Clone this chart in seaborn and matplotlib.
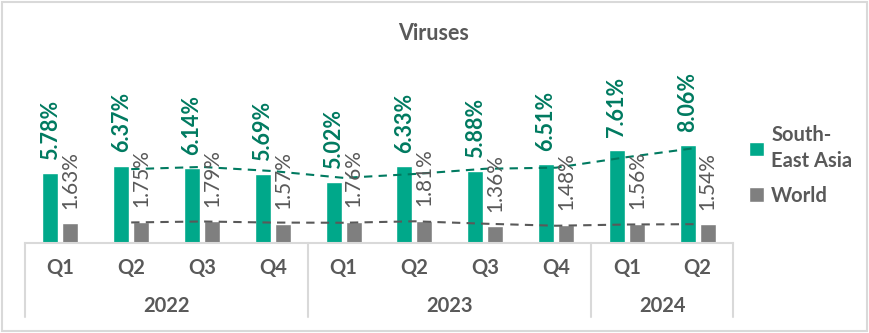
import matplotlib
matplotlib.use("Agg")
import matplotlib.pyplot as plt
import matplotlib.transforms as mtransforms
from matplotlib.patches import Rectangle
import seaborn as sns
import pandas as pd

# Quarterly share of virus detections (%)
quarters = ["Q1", "Q2", "Q3", "Q4", "Q1", "Q2", "Q3", "Q4", "Q1", "Q2"]
years = ["2022", "2023", "2024"]
year_spans = [4, 4, 2]
sea_values = [5.78, 6.37, 6.14, 5.69, 5.02, 6.33, 5.88, 6.51, 7.61, 8.06]
world_values = [1.63, 1.75, 1.79, 1.57, 1.76, 1.81, 1.36, 1.48, 1.56, 1.54]
series_names = ["South-\nEast Asia", "World"]

TEAL = "#00A88A"
TEAL_DARK = "#007A60"
GREY = "#7F7F7F"
GREY_DARK = "#595959"
TEXT = "#595959"
LINE = "#D9D9D9"

sns.set_theme(style="white")
plt.rcParams["font.family"] = ["Lato", "DejaVu Sans"]

n = len(quarters)
df = pd.DataFrame({
    "pos": list(range(n)) * 2,
    "value": sea_values + world_values,
    "series": [series_names[0]] * n + [series_names[1]] * n,
})

W, H = 869, 333
fig = plt.figure(figsize=(W / 100, H / 100), dpi=100)
ax_left, ax_right, ax_bottom, ax_top = 25, 733, 243, 60
ax = fig.add_axes([ax_left / W, 1 - ax_bottom / H,
                   (ax_right - ax_left) / W, (ax_bottom - ax_top) / H])

sns.barplot(data=df, x="pos", y="value", hue="series", ax=ax,
            palette=[TEAL, GREY], width=0.565, gap=0.2,
            order=list(range(n)), hue_order=series_names,
            saturation=1, errorbar=None, legend=True)

px_per_unit = 12.16
ax.set_ylim(0, (ax_bottom - ax_top) / px_per_unit)
ax.set_xlim(-0.5, n - 0.5)

# Two-period moving average trendlines
sea_ma = pd.Series(sea_values).rolling(2).mean()
world_ma = pd.Series(world_values).rolling(2).mean()
xs = list(range(n))
ax.plot(xs, sea_ma, ls=(0, (4, 3)), color=TEAL_DARK, lw=1.5, zorder=3)
ax.plot(xs, world_ma, ls=(0, (4, 3)), color=GREY_DARK, lw=1.5, zorder=3)

# Data labels
for cont, color, weight, pad, size in [
        (ax.containers[0], TEAL_DARK, "bold", 9.5, 15.5),
        (ax.containers[1], TEXT, "normal", 10.5, 15)]:
    for bar in cont:
        h = bar.get_height()
        ax.annotate(f"{h:.2f}%", (bar.get_x() + bar.get_width() / 2, h),
                    xytext=(0, pad), textcoords="offset points",
                    rotation=90, ha="center", va="bottom",
                    fontsize=size, color=color, fontweight=weight)

# Axes styling
for side in ["top", "right", "left"]:
    ax.spines[side].set_visible(False)
ax.spines["bottom"].set_color(LINE)
ax.spines["bottom"].set_linewidth(1.5)
ax.set_yticks([])
ax.set_ylabel("")
ax.set_xlabel("")
ax.set_xticks(range(n))
ax.set_xticklabels(quarters, fontsize=14.5, fontweight="bold", color=TEXT)
ax.tick_params(axis="x", length=0, pad=11)

# Year grouping with separators
trans = mtransforms.blended_transform_factory(ax.transData, ax.transAxes)
sep_depth = -(317 - ax_bottom) / (ax_bottom - ax_top)
year_y = -(306 - ax_bottom) / (ax_bottom - ax_top)
start = -0.5
ax.plot([start, start], [0, sep_depth], transform=trans, color=LINE,
        lw=1.5, clip_on=False)
for yr, span in zip(years, year_spans):
    end = start + span
    ax.plot([end, end], [0, sep_depth], transform=trans, color=LINE,
            lw=1.5, clip_on=False)
    ax.text((start + end) / 2, year_y, yr, transform=trans, ha="center",
            va="center", fontsize=14.5, fontweight="bold", color=TEXT)
    start = end

# Title
fig.text(434 / W, 1 - 33 / H, "Viruses", ha="center", va="center",
         fontsize=15.5, fontweight="bold", color=TEXT)

# Legend
leg = ax.legend(loc="upper left", bbox_to_anchor=(731 / W, 1 - 107 / H),
                bbox_transform=fig.transFigure, frameon=False,
                handlelength=0.75, handleheight=0.75, handletextpad=0.35,
                labelspacing=0.75, prop={"size": 14.5, "weight": "bold"})
for t in leg.get_texts():
    t.set_color(TEXT)
    t.set_linespacing(1.35)

# Chart frame
fig.patches.append(Rectangle((2 / W, 2 / H), 1 - 4 / W, 1 - 4 / H,
                             transform=fig.transFigure, fill=False,
                             edgecolor=LINE, lw=1.5))

fig.savefig("out.png", dpi=100)
